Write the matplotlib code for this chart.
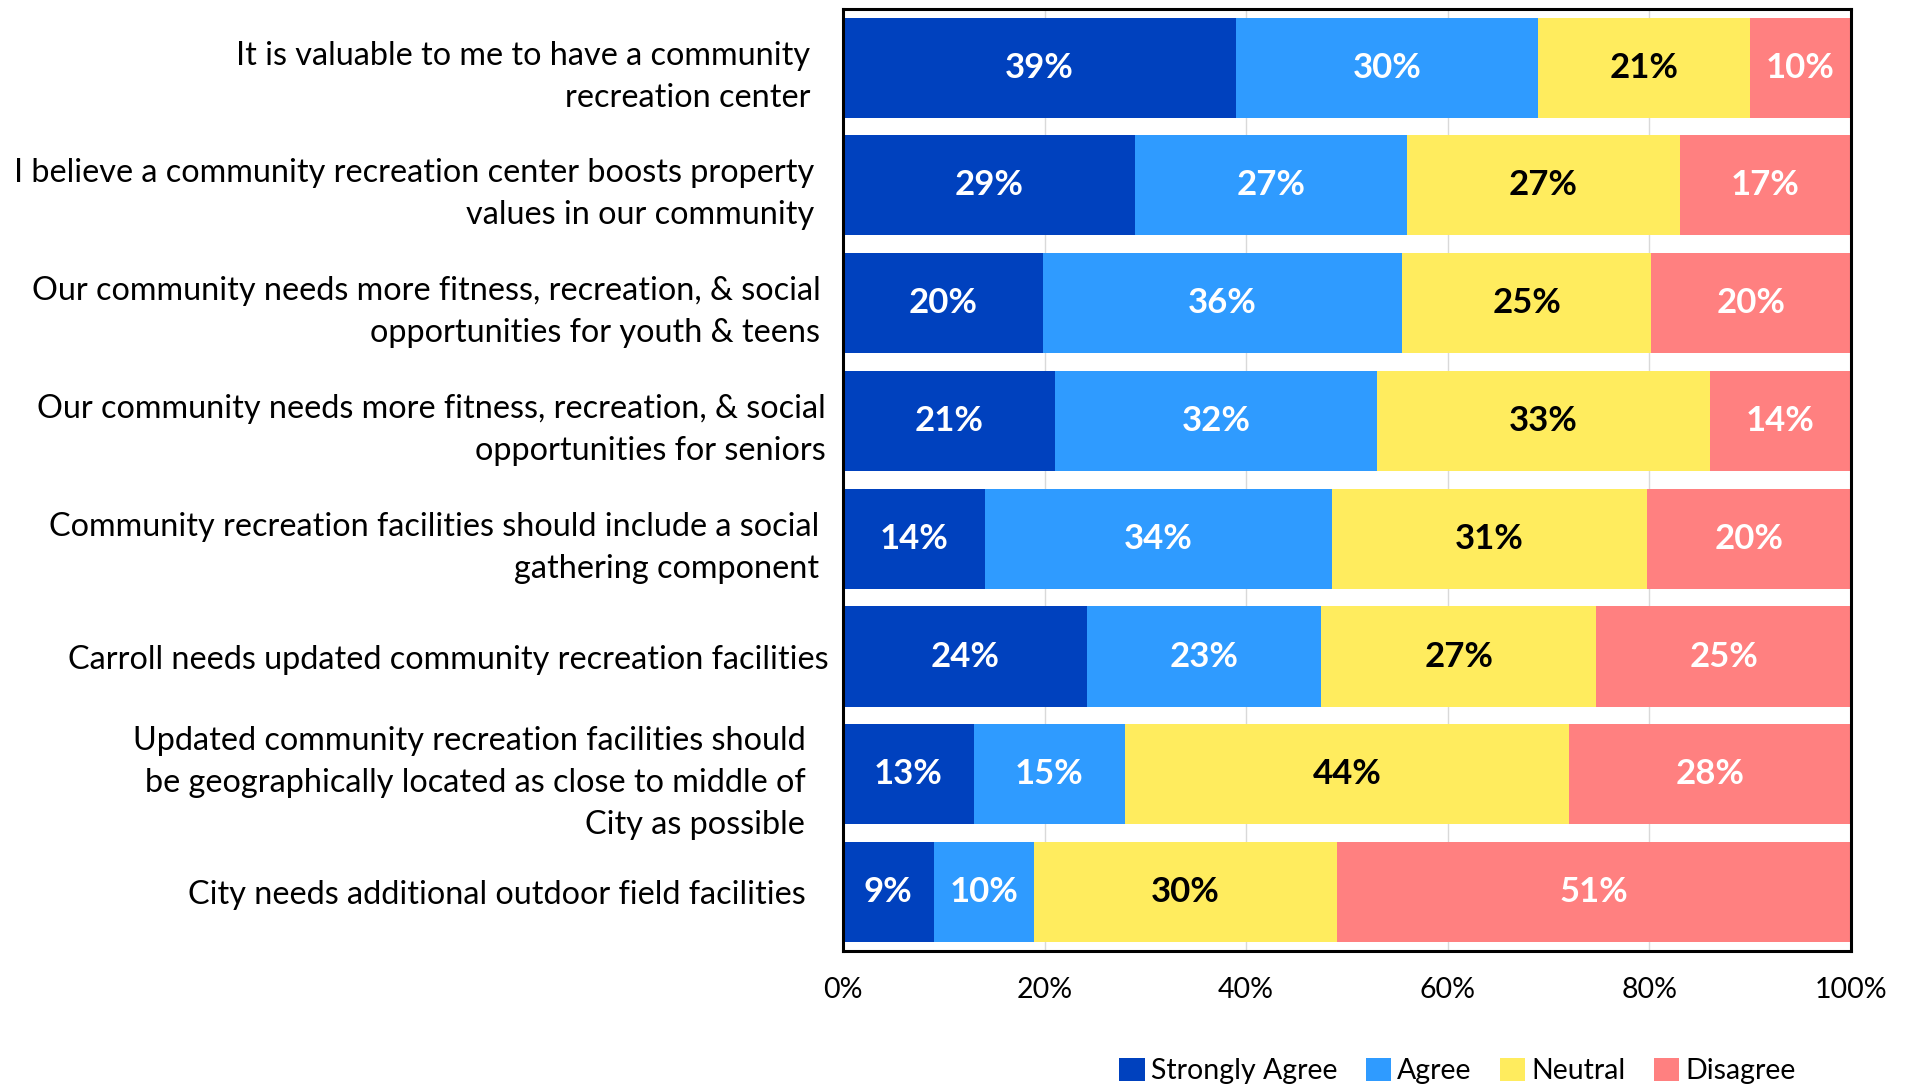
import matplotlib
matplotlib.use("Agg")
import matplotlib.pyplot as plt
from matplotlib.transforms import ScaledTranslation
import numpy as np

categories = [
    "It is valuable to me to have a community\nrecreation center",
    "I believe a community recreation center boosts property\nvalues in our community",
    "Our community needs more fitness, recreation, & social\nopportunities for youth & teens",
    "Our community needs more fitness, recreation, & social\nopportunities for seniors",
    "Community recreation facilities should include a social\ngathering component",
    "Carroll needs updated community recreation facilities",
    "Updated community recreation facilities should\nbe geographically located as close to middle of\nCity as possible",
    "City needs additional outdoor field facilities",
]
series_names = ["Strongly Agree", "Agree", "Neutral", "Disagree"]
strongly_agree = [39, 29, 20, 21, 14, 24, 13, 9]
agree = [30, 27, 36, 32, 34, 23, 15, 10]
neutral = [21, 27, 25, 33, 31, 27, 44, 30]
disagree = [10, 17, 20, 14, 20, 25, 28, 51]
x_ticks = [0, 20, 40, 60, 80, 100]
x_tick_labels = ["0%", "20%", "40%", "60%", "80%", "100%"]

colors = ["#0041BE", "#2F9BFF", "#FFEC5E", "#FF8080"]
text_colors = ["white", "white", "black", "white"]
# small horizontal shifts (px at 100 dpi) of each wrapped label's right edge
label_shift_px = [-18, -14, -8, -3, -9, 0, -23, -23]

plt.rcParams['font.family'] = ['Lato', 'DejaVu Sans']

fig = plt.figure(figsize=(19.07, 10.86), dpi=100)
ax = fig.add_axes([0.442, 0.1243, 0.9706 - 0.442, 0.992 - 0.1243])

data = np.array([strongly_agree, agree, neutral, disagree], dtype=float)
totals = data.sum(axis=0)
shares = data / totals * 100

y = np.arange(len(categories))
left = np.zeros(len(categories))
for i, name in enumerate(series_names):
    bars = ax.barh(y, shares[i], left=left, height=0.85, color=colors[i],
                   label=name, zorder=2)
    for j, b in enumerate(bars):
        cx = left[j] + shares[i][j] / 2
        ax.text(cx, y[j], f"{int(data[i][j])}%", ha="center", va="center",
                color=text_colors[i], fontsize=25, fontweight="bold", zorder=3)
    left += shares[i]

ax.set_xlim(0, 100)
ax.set_ylim(len(categories) - 0.5, -0.5)
ax.set_yticks(y)
ax.set_yticklabels(categories, fontsize=23.3, linespacing=1.5)
ax.set_xticks(x_ticks)
ax.set_xticklabels(x_tick_labels, fontsize=20.5)
ax.tick_params(axis="y", length=0, pad=10.5)
ax.tick_params(axis="x", length=0, pad=19)
ax.xaxis.grid(True, color="#D9D9D9", linewidth=1, zorder=0)
ax.set_axisbelow(True)
for s in ax.spines.values():
    s.set_linewidth(2.2)
    s.set_color("black")

for lbl, dx in zip(ax.get_yticklabels(), label_shift_px):
    lbl.set_transform(lbl.get_transform() + ScaledTranslation(dx / 100, 0, fig.dpi_scale_trans))

leg = fig.legend(loc="lower right", bbox_to_anchor=(0.955, -0.022), ncol=4,
                 frameon=False, fontsize=20.5, handlelength=0.9, handleheight=0.9,
                 handletextpad=0.2, columnspacing=1.0)

fig.savefig("out.png", dpi=100)
